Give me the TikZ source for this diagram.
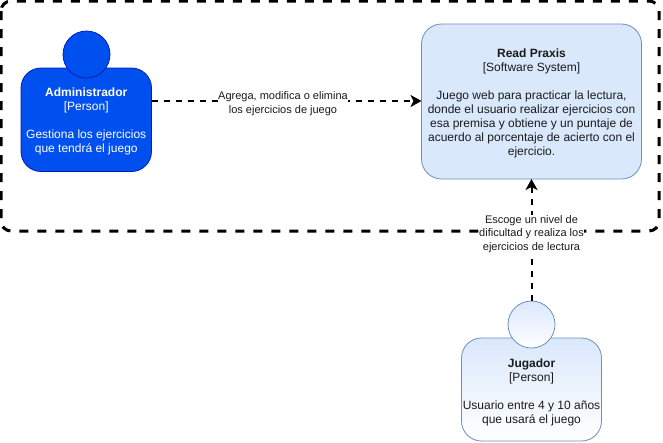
\documentclass[tikz,border=0pt]{standalone}
\usepackage{fontspec}
\setmainfont{Liberation Sans}
\usetikzlibrary{arrows.meta}
\definecolor{adminfill}{HTML}{0050EF}
\definecolor{adminline}{HTML}{001DBC}
\definecolor{lightfill}{HTML}{DAE8FC}
\definecolor{lightline}{HTML}{6C8EBF}
\definecolor{txt}{HTML}{1A1A1A}
\tikzset{
  x=1pt,y=-1pt,
  bodybox/.style={rectangle,rounded corners=20pt,minimum width=#1,inner sep=0pt,outer sep=0pt,line width=.8pt},
  headcircle/.style={circle,minimum size=47pt,inner sep=0pt,outer sep=0pt,line width=.8pt},
  adminstyle/.style={draw=adminline,fill=adminfill},
  lightstyle/.style={draw=lightline,fill=lightfill},
  gradstyle/.style={draw=lightline,top color=lightfill,bottom color=white},
  boxtext/.style={align=center,font=\fontsize{12}{14}\selectfont,text=txt,inner sep=0pt},
  edgelabel/.style={align=center,font=\fontsize{11}{13.5}\selectfont,text=txt,inner sep=0.5pt},
  reltip/.style={draw=black,line width=2pt,dash pattern=on 6pt off 6pt,-{Stealth[length=11pt,width=12pt,inset=3pt]}},
  frame/.style={draw=black,line width=3pt,dash pattern=on 9pt off 9pt,rounded corners=10pt},
}
\begin{document}
\begin{tikzpicture}
\useasboundingbox (0,0) rectangle (663,442);
\fill[white] (0,0) rectangle (663,442);
\draw[frame] (1,1) rectangle (659,231);
\node[bodybox=130.5pt,minimum height=103.5pt,adminstyle] (admin) at (86.25,119.75) {};
\node[headcircle,adminstyle] (adminhead) at (86.5,54.5) {};
\node[boxtext,text=white] (admintext) at (86.25,121.5) {\textbf{Administrador}\\{}[Person]\\[14pt]Gestiona los ejercicios\\que tendrá el juego};
\node[bodybox=220pt,minimum height=155pt,lightstyle] (system) at (531.5,101.5) {};
\node[boxtext] (systemtext) at (531.5,103) {\textbf{Read Praxis}\\{}[Software System]\\[14pt]Juego web para practicar la lectura,\\donde el usuario realizar ejercicios con\\esa premisa y obtiene y un puntaje de\\acuerdo al porcentaje de acierto con el\\ejercicio.};
\node[bodybox=140pt,minimum height=103pt,gradstyle] (player) at (531.5,389.5) {};
\node[headcircle,gradstyle] (playerhead) at (531.5,324.5) {};
\node[boxtext] (playertext) at (531.5,392) {\textbf{Jugador}\\{}[Person]\\[14pt]Usuario entre 4 y 10 años\\que usará el juego};
\draw[reltip] (admin.east |- 0,101) -- (system.west |- 0,101);
\draw[reltip] (playerhead.north) -- (system.south);
\node[edgelabel,fill=white] (label1) at (283,103.5) {Agrega, modifica o elimina\\los ejercicios de juego};
\node[edgelabel,fill=white] (label2) at (531.5,234) {Escoge un nivel de\\dificultad y realiza los\\ejercicios de lectura};
\end{tikzpicture}
\end{document}
